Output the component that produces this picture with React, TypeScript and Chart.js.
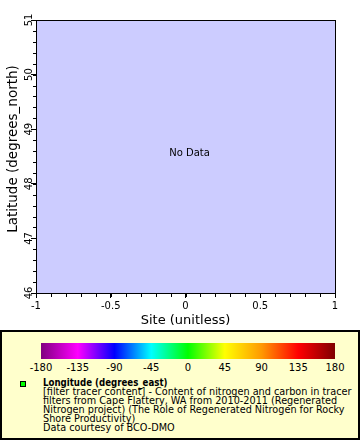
import { useEffect, useRef } from "react";
import { Chart, registerables } from "chart.js";

Chart.register(...registerables);

// ---- data ----
const xMin = -1;
const xMax = 1;
const yMin = 46;
const yMax = 51;
const xMajorStep = 0.5;
const xMinorStep = 0.1;
const yMajorStep = 1;
const yMinorStep = 0.2;
const points: { x: number; y: number }[] = []; // No Data
const xTitle = "Site (unitless)";
const yTitle = "Latitude (degrees_north)";
const noDataText = "No Data";
const colorbarTicks = [-180, -135, -90, -45, 0, 45, 90, 135, 180];
const colorbarColors = [
  "#800080",
  "#ff00ff",
  "#0000ff",
  "#00ffff",
  "#00ff00",
  "#ffff00",
  "#ff9900",
  "#ff0000",
  "#800000",
];
const legendTitle = "Longitude (degrees_east)";
const legendLines = [
  "[filter tracer content] - Content of nitrogen and carbon in tracer",
  "filters from Cape Flattery, WA from 2010-2011 (Regenerated",
  "Nitrogen project) (The Role of Regenerated Nitrogen for Rocky",
  "Shore Productivity)",
  "Data courtesy of BCO-DMO",
];

const FONT = "'DejaVu Sans', sans-serif";
const BOLD_FONT = "'DejaVu Sans Condensed', 'DejaVu Sans', sans-serif";

const framePlugin = {
  id: "frame",
  beforeDraw(chart: any) {
    const { ctx, chartArea } = chart;
    ctx.save();
    ctx.fillStyle = "#ccccff";
    ctx.fillRect(chartArea.left, chartArea.top, chartArea.right - chartArea.left + 1, chartArea.bottom - chartArea.top + 1);
    ctx.restore();
  },
  afterDraw(chart: any) {
    const { ctx, chartArea, scales } = chart;
    const { left, right, top, bottom } = chartArea;
    ctx.save();
    ctx.strokeStyle = "#000";
    ctx.lineWidth = 1;
    ctx.strokeRect(left + 0.5, top + 0.5, right - left, bottom - top);
    // minor ticks
    ctx.beginPath();
    const xs = scales.x;
    const nx = Math.round((xMax - xMin) / xMinorStep);
    for (let i = 0; i <= nx; i++) {
      const v = xMin + i * xMinorStep;
      const px = Math.round(xs.getPixelForValue(v)) + 0.5;
      ctx.moveTo(px, bottom + 1);
      ctx.lineTo(px, bottom + 4);
    }
    const ys = scales.y;
    const ny = Math.round((yMax - yMin) / yMinorStep);
    for (let i = 0; i <= ny; i++) {
      const v = yMin + i * yMinorStep;
      const py = Math.round(ys.getPixelForValue(v)) + 0.5;
      ctx.moveTo(left, py);
      ctx.lineTo(left - 3, py);
    }
    ctx.stroke();
    // rotated y tick labels
    ctx.fillStyle = "#000";
    ctx.font = "10px " + FONT;
    ctx.textAlign = "center";
    ctx.textBaseline = "alphabetic";
    for (const t of ys.ticks) {
      const py = ys.getPixelForValue(t.value);
      ctx.save();
      ctx.translate(left - 4, py);
      ctx.rotate(-Math.PI / 2);
      ctx.fillText(String(t.value), 0, 0);
      ctx.restore();
    }
    // y axis title
    ctx.save();
    ctx.font = "13.5px " + FONT;
    ctx.textAlign = "center";
    ctx.textBaseline = "middle";
    ctx.translate(13, (top + bottom) / 2 - 7.5);
    ctx.rotate(-Math.PI / 2);
    ctx.fillText(yTitle, 0, 0);
    ctx.restore();
    // No Data
    if (points.length === 0) {
      ctx.font = "10px " + FONT;
      ctx.textAlign = "center";
      ctx.textBaseline = "middle";
      ctx.fillText(noDataText, (left + right) / 2 + 4, (top + bottom) / 2 - 3.5);
    }
    ctx.restore();
  },
};

export default function App() {
  const ref = useRef<HTMLCanvasElement | null>(null);
  useEffect(() => {
    document.body.style.margin = "0";
    const canvas = ref.current!;
    const chart = new Chart(canvas, {
      type: "scatter",
      data: { datasets: [{ data: points, pointRadius: 3, backgroundColor: "#00ff00" }] },
      options: {
        animation: false,
        responsive: false,
        maintainAspectRatio: false,
        layout: { padding: { top: 20, right: 25, left: 0, bottom: 0 } },
        plugins: { legend: { display: false }, tooltip: { enabled: false } },
        scales: {
          x: {
            type: "linear",
            min: xMin,
            max: xMax,
            afterFit: (s: any) => {
              s.height = 37;
            },
            border: { display: false },
            grid: { drawOnChartArea: false, drawTicks: true, tickLength: 5, tickColor: "#000" },
            ticks: {
              stepSize: xMajorStep,
              color: "#000",
              font: { family: FONT, size: 10 },
              padding: 2,
              maxRotation: 0,
              callback: (v: any) => String(Number(v)),
            },
            title: {
              display: true,
              text: xTitle,
              color: "#000",
              font: { family: FONT, size: 13 },
              padding: { top: 0, bottom: 2 },
            },
          },
          y: {
            type: "linear",
            min: yMin,
            max: yMax,
            afterFit: (s: any) => {
              s.width = 36;
            },
            border: { display: false },
            grid: { drawOnChartArea: false, drawTicks: true, tickLength: 5, tickColor: "#000" },
            ticks: { stepSize: yMajorStep, display: false },
            title: { display: false },
          },
        },
      },
      plugins: [framePlugin],
    } as any);
    return () => chart.destroy();
  }, []);

  const barLeft = 41;
  const barWidth = 294;
  const gradient =
    "linear-gradient(to right, " +
    colorbarColors.map((c, i) => `${c} ${(i / (colorbarColors.length - 1)) * 100}%`).join(", ") +
    ")";

  return (
    <div style={{ position: "relative", width: 360, height: 440, overflow: "hidden" }}>
      <canvas ref={ref} width={360} height={330} style={{ position: "absolute", left: 0, top: 0, width: 360, height: 330 }} />
      <div
        style={{
          position: "absolute",
          left: 0,
          top: 330,
          width: 360,
          height: 110,
          boxSizing: "border-box",
          border: "2px solid #000",
          background: "#ffffcc",
        }}
      />
      <div style={{ position: "absolute", left: barLeft, top: 343, width: barWidth, height: 16, background: gradient }} />
      {colorbarTicks.map((t, i) => (
        <span
          key={t}
          style={{
            position: "absolute",
            left: barLeft + (i * barWidth) / (colorbarTicks.length - 1),
            top: 362,
            transform: "translateX(-50%)",
            font: "10px " + FONT,
            lineHeight: "12px",
            whiteSpace: "nowrap",
            color: "#000",
          }}
        >
          {t}
        </span>
      ))}
      <div
        style={{
          position: "absolute",
          left: 20,
          top: 381,
          width: 6,
          height: 6,
          boxSizing: "border-box",
          border: "1px solid #000",
          background: "#00ff00",
        }}
      />
      <div
        style={{
          position: "absolute",
          left: 43,
          top: 379,
          font: "9.7px " + FONT,
          lineHeight: "8.9px",
          color: "#000",
          whiteSpace: "nowrap",
        }}
      >
        <div style={{ font: "bold 9.6px " + BOLD_FONT, lineHeight: "8.9px" }}>{legendTitle}</div>
        {legendLines.map((l) => (
          <div key={l}>{l}</div>
        ))}
      </div>
    </div>
  );
}
